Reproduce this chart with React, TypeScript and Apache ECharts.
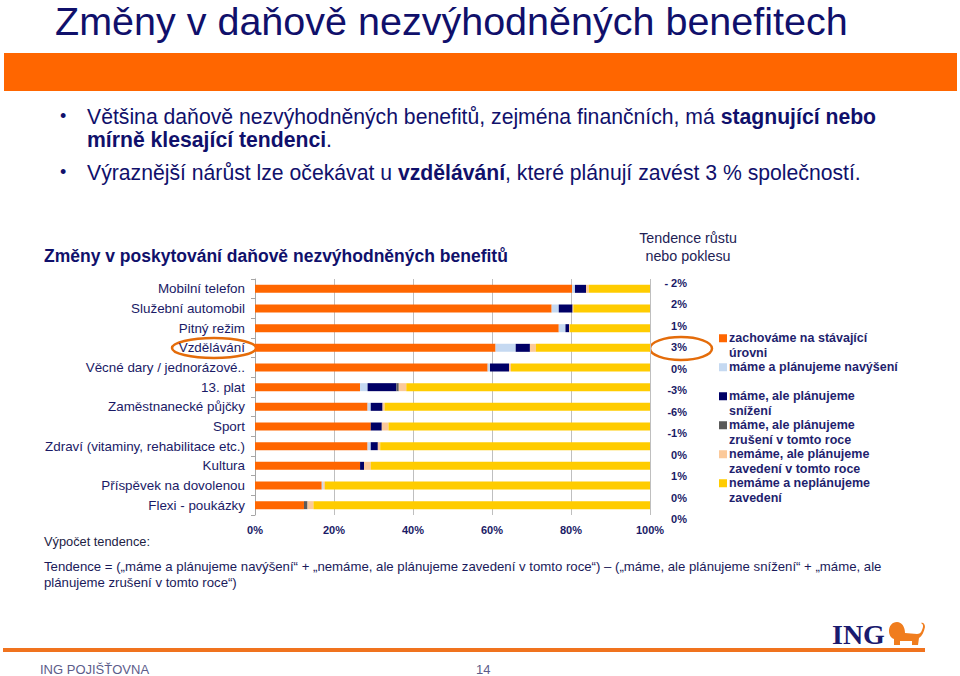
import React, { useEffect, useRef } from "react";
import * as echarts from "echarts";

const categories = [
  "Mobilní telefon",
  "Služební automobil",
  "Pitný režim",
  "Vzdělávání",
  "Věcné dary / jednorázové..",
  "13. plat",
  "Zaměstnanecké půjčky",
  "Sport",
  "Zdraví (vitaminy, rehabilitace etc.)",
  "Kultura",
  "Příspěvek na dovolenou",
  "Flexi - poukázky",
];

const zachovame = [80.3, 75.1, 76.9, 60.9, 58.9, 26.6, 28.5, 29.3, 28.5, 26.6, 16.9, 12.4];
const navyseni = [0.7, 1.8, 1.7, 5.1, 0.6, 1.9, 0.8, 0, 0.8, 0, 0.4, 0];
const snizeni = [2.8, 3.5, 0.9, 3.6, 4.8, 7.3, 3.0, 2.8, 1.8, 1.0, 0, 0];
const zruseni = [0, 0, 0, 0, 0, 0.6, 0, 0, 0, 0, 0, 0.9];
const zavedeni = [0.7, 0.2, 0.2, 1.5, 0.5, 1.9, 0.5, 1.7, 0.6, 1.7, 0.4, 1.5];
const neplanujeme = [15.5, 19.4, 20.3, 28.9, 35.2, 61.7, 67.2, 66.2, 68.3, 70.7, 82.3, 85.2];

const tendenceLabels = ["- 2%", "2%", "1%", "3%", "0%", "-3%", "-6%", "-1%", "0%", "1%", "0%", "0%"];

const xTicks = [0, 20, 40, 60, 80, 100];

const legendLines = [
  ["zachováme na stávající", "úrovni"],
  ["máme a plánujeme navýšení", ""],
  ["máme, ale plánujeme", "snížení"],
  ["máme, ale plánujeme", "zrušení v tomto roce"],
  ["nemáme, ale plánujeme", "zavedení v tomto roce"],
  ["nemáme a neplánujeme", "zavedení"],
];

const seriesNames = legendLines.map((l) => (l[0] + " " + l[1]).trim());
const seriesData = [zachovame, navyseni, snizeni, zruseni, zavedeni, neplanujeme];
const colors = ["#ff6600", "#c5d9f1", "#000066", "#5a5a5a", "#fbc99a", "#ffcc00"];

const FONT = "'Liberation Sans', Arial, Helvetica, sans-serif";
const NAVY = "#10106b";

const lionPath =
  "M9 2 C4 2 1 6 1 11 C1 15 3 18 6 19 L6 25 L12 25 L12 21 L24 21 L24 25 L30 25 L31 18 C34 16 36 12 37 7 C37 4 35 2 33 3 C35 4 36 6 34 10 C33 13 31 14 29 14 L17 13 C17 7 14 2 9 2 Z";

let registered = false;

export default function App() {
  const ref = useRef<HTMLDivElement>(null);

  useEffect(() => {
    if (!ref.current) return;
    if (!registered) {
      echarts.graphic.registerShape("lion", echarts.graphic.extendPath(lionPath, {}) as any);
      registered = true;
    }
    const chart = echarts.init(ref.current, undefined, { renderer: "svg" });

    const rich: any = {
      t: {
        fontSize: 12.5,
        fontWeight: "bold",
        color: "#1f1f6e",
        lineHeight: 14.5,
        padding: [0, 0, 0, 2],
        fontFamily: FONT,
      },
      sp: { width: 8, height: 8 },
    };
    colors.forEach((c, i) => {
      rich["s" + i] = { width: 8, height: 8, backgroundColor: c, verticalAlign: "middle" };
    });

    const bulletRich = {
      n: { fontSize: 21.2, fontFamily: FONT, fill: NAVY },
      b: { fontSize: 21.2, fontFamily: FONT, fontWeight: "bold", fill: NAVY },
    };

    const option: any = {
      animation: false,
      backgroundColor: "#ffffff",
      grid: [
        { left: 255, right: 310, top: 279, height: 236 },
        { left: 689, width: 4, top: 272, height: 258 },
      ],
      xAxis: [
        {
          type: "value",
          gridIndex: 0,
          min: 0,
          max: 100,
          interval: 20,
          axisLine: { show: false },
          axisTick: { show: false },
          splitLine: { lineStyle: { color: "#bfbfbf", width: 1 } },
          axisLabel: {
            formatter: (v: number) => (xTicks.includes(v) ? v + "%" : ""),
            color: "#1a1a66",
            fontSize: 11,
            fontWeight: "bold",
            fontFamily: FONT,
            margin: 9,
          },
        },
        { type: "value", gridIndex: 1, show: false, min: 0, max: 1 },
      ],
      yAxis: [
        {
          type: "category",
          gridIndex: 0,
          data: categories,
          inverse: true,
          axisLine: { show: true, lineStyle: { color: "#a6a6a6" } },
          axisTick: { show: true, length: 4, lineStyle: { color: "#a6a6a6" } },
          axisLabel: {
            color: "#1a1a66",
            fontSize: 13.4,
            fontFamily: FONT,
            margin: 10,
          },
        },
        {
          type: "category",
          gridIndex: 1,
          data: tendenceLabels,
          inverse: true,
          position: "left",
          axisLine: { show: false },
          axisTick: { show: false },
          axisLabel: {
            color: "#1a1a66",
            fontSize: 11,
            fontWeight: "bold",
            fontFamily: FONT,
            margin: 2,
          },
        },
      ],
      legend: {
        data: seriesNames,
        orient: "vertical",
        left: 709,
        top: 326,
        itemGap: 0,
        itemWidth: 0,
        itemHeight: 0,
        selectedMode: false,
        formatter: (name: string) => {
          const i = seriesNames.indexOf(name);
          const [a, b] = legendLines[i];
          return `{s${i}|}{t|${a}}\n{sp|}{t|${b || " "}}`;
        },
        textStyle: { rich, lineHeight: 14.5 },
      },
      series: seriesNames.map((name, i) => ({
        name,
        type: "bar",
        stack: "total",
        xAxisIndex: 0,
        yAxisIndex: 0,
        barWidth: 8,
        itemStyle: { color: colors[i] },
        data: seriesData[i],
      })),
      graphic: [
        {
          type: "text",
          x: 55,
          y: 21,
          style: {
            text: "Změny v daňově nezvýhodněných benefitech",
            font: `39.5px ${FONT}`,
            lineHeight: 40,
            fill: NAVY,
            verticalAlign: "middle",
          },
        },
        {
          type: "rect",
          shape: { x: 4, y: 53, width: 953, height: 38 },
          style: { fill: "#ff6600" },
        },
        { type: "text", x: 60, y: 116, style: { text: "•", font: `18px ${FONT}`, fill: NAVY, verticalAlign: "middle" } },
        { type: "text", x: 60, y: 172, style: { text: "•", font: `18px ${FONT}`, fill: NAVY, verticalAlign: "middle" } },
        {
          type: "text",
          x: 87,
          y: 116,
          style: {
            text: "{n|Většina daňově nezvýhodněných benefitů, zejména finančních, má }{b|stagnující nebo}",
            verticalAlign: "middle",
            rich: bulletRich,
          },
        },
        {
          type: "text",
          x: 87,
          y: 139,
          style: {
            text: "{b|mírně klesající tendenci}{n|.}",
            verticalAlign: "middle",
            rich: bulletRich,
          },
        },
        {
          type: "text",
          x: 87,
          y: 172,
          style: {
            text: "{n|Výraznější nárůst lze očekávat u }{b|vzdělávání}{n|, které plánují zavést 3 % společností.}",
            verticalAlign: "middle",
            rich: bulletRich,
          },
        },
        {
          type: "text",
          x: 44,
          y: 256,
          style: {
            text: "Změny v poskytování daňově nezvýhodněných benefitů",
            font: `bold 17.5px ${FONT}`,
            fill: NAVY,
            verticalAlign: "middle",
          },
        },
        {
          type: "text",
          x: 688,
          y: 247,
          style: {
            text: "Tendence růstu\nnebo poklesu",
            font: `14.3px ${FONT}`,
            lineHeight: 18,
            fill: "#222255",
            align: "center",
            verticalAlign: "middle",
          },
        },
        {
          type: "ellipse",
          shape: { cx: 214, cy: 348, rx: 42, ry: 10 },
          style: { fill: "none", stroke: "#e46c0a", lineWidth: 2.5 },
        },
        {
          type: "ellipse",
          shape: { cx: 681, cy: 348.5, rx: 31, ry: 11.5 },
          style: { fill: "none", stroke: "#e46c0a", lineWidth: 2.5 },
        },
        {
          type: "text",
          x: 44,
          y: 541,
          style: { text: "Výpočet tendence:", font: `12.8px ${FONT}`, fill: "#222244", verticalAlign: "middle" },
        },
        {
          type: "text",
          x: 44,
          y: 558,
          style: {
            text:
              "Tendence = („máme a plánujeme navýšení“ + „nemáme, ale plánujeme zavedení v tomto roce“) – („máme, ale plánujeme snížení“ + „máme, ale\nplánujeme zrušení v tomto roce“)",
            font: `13.2px ${FONT}`,
            lineHeight: 16,
            fill: "#1a1a5a",
          },
        },
        {
          type: "text",
          x: 832,
          y: 634,
          style: { text: "ING", font: `bold 28px 'Liberation Serif', 'Times New Roman', serif`, fill: "#1a1a6e", verticalAlign: "middle" },
        },
        {
          type: "lion",
          x: 888,
          y: 620,
          scaleX: 1,
          scaleY: 1,
          style: { fill: "#f07d1e" },
        },
        {
          type: "rect",
          shape: { x: 3, y: 648, width: 922, height: 4 },
          style: { fill: "#f0731e" },
        },
        {
          type: "text",
          x: 40,
          y: 669,
          style: { text: "ING POJIŠŤOVNA", font: `13px ${FONT}`, fill: "#5c5c8a", verticalAlign: "middle" },
        },
        {
          type: "text",
          x: 476,
          y: 669,
          style: { text: "14", font: `13px ${FONT}`, fill: "#5c5c8a", verticalAlign: "middle" },
        },
      ],
    };

    chart.setOption(option);
    return () => chart.dispose();
  }, []);

  return (
    <div
      ref={ref}
      style={{ position: "absolute", left: 0, top: 0, width: 960, height: 676, background: "#fff" }}
    />
  );
}
